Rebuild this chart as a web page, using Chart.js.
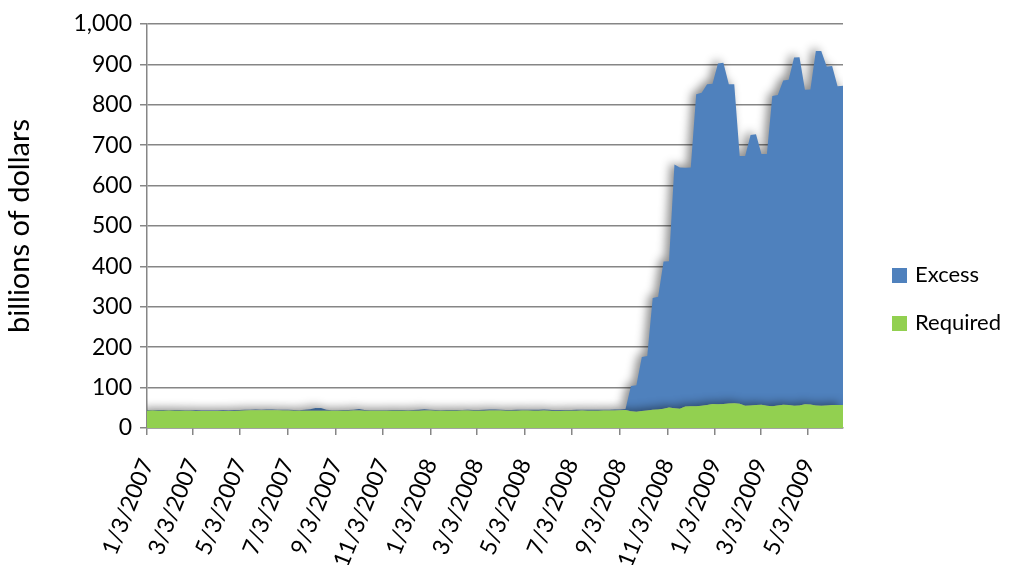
<!DOCTYPE html>
<html>
<head>
<meta charset="utf-8">
<script src="https://cdn.jsdelivr.net/npm/chart.js@4.4.1/dist/chart.umd.min.js"></script>
<style>
  html, body { margin: 0; padding: 0; background: #fff; }
</style>
</head>
<body>
<canvas id="myChart" width="1011" height="565"></canvas>
<script>
// weekly dates (Wednesdays)
const weeks = [
  '1/3/2007','1/10/2007','1/17/2007','1/24/2007','1/31/2007','2/7/2007','2/14/2007','2/21/2007','2/28/2007',
  '3/7/2007','3/14/2007','3/21/2007','3/28/2007','4/4/2007','4/11/2007','4/18/2007','4/25/2007',
  '5/2/2007','5/9/2007','5/16/2007','5/23/2007','5/30/2007','6/6/2007','6/13/2007','6/20/2007','6/27/2007',
  '7/4/2007','7/11/2007','7/18/2007','7/25/2007','8/1/2007','8/8/2007','8/15/2007','8/22/2007','8/29/2007',
  '9/5/2007','9/12/2007','9/19/2007','9/26/2007','10/3/2007','10/10/2007','10/17/2007','10/24/2007','10/31/2007',
  '11/7/2007','11/14/2007','11/21/2007','11/28/2007','12/5/2007','12/12/2007','12/19/2007','12/26/2007',
  '1/2/2008','1/9/2008','1/16/2008','1/23/2008','1/30/2008','2/6/2008','2/13/2008','2/20/2008','2/27/2008',
  '3/5/2008','3/12/2008','3/19/2008','3/26/2008','4/2/2008','4/9/2008','4/16/2008','4/23/2008','4/30/2008',
  '5/7/2008','5/14/2008','5/21/2008','5/28/2008','6/4/2008','6/11/2008','6/18/2008','6/25/2008',
  '7/2/2008','7/9/2008','7/16/2008','7/23/2008','7/30/2008','8/6/2008','8/13/2008','8/20/2008','8/27/2008',
  '9/3/2008','9/10/2008','9/17/2008','9/24/2008','10/1/2008','10/8/2008','10/15/2008','10/22/2008','10/29/2008',
  '11/5/2008','11/12/2008','11/19/2008','11/26/2008','12/3/2008','12/10/2008','12/17/2008','12/24/2008','12/31/2008',
  '1/7/2009','1/14/2009','1/21/2009','1/28/2009','2/4/2009','2/11/2009','2/18/2009','2/25/2009',
  '3/4/2009','3/11/2009','3/18/2009','3/25/2009','4/1/2009','4/8/2009','4/15/2009','4/22/2009','4/29/2009',
  '5/6/2009','5/13/2009','5/20/2009','5/27/2009','6/3/2009','6/10/2009','6/17/2009'
];

// required reserves, billions
const required = [
  43.0, 43.1, 42.9, 43.0, 43.2, 43.0, 42.8, 42.6, 42.4, 42.2,
  42.0, 42.1, 41.9, 42.0, 42.1, 42.0, 42.3, 43.0, 43.6, 43.8,
  43.9, 43.7, 43.8, 44.0, 43.8, 43.6, 43.5, 42.8, 42.4, 42.6,
  42.8, 43.0, 43.0, 42.7, 42.5, 42.4, 42.6, 42.8, 43.2, 43.4,
  43.0, 42.6, 42.5, 42.6, 42.8, 42.9, 43.0, 42.8, 42.6, 42.7,
  43.0, 43.4, 43.2, 42.8, 42.6, 42.7, 42.9, 43.0, 43.2, 43.1,
  42.9, 42.8, 42.9, 43.1, 43.3, 43.2, 43.0, 42.9, 43.0, 43.1,
  43.2, 43.0, 42.9, 43.1, 42.8, 42.3, 42.2, 42.6, 42.9, 43.0,
  43.1, 43.0, 42.9, 43.0, 43.2, 43.4, 43.6, 44.0, 44.5, 41.5,
  40.5, 42.0, 43.5, 45.0, 46.0, 47.5, 51.0, 49.0, 47.5, 53.5,
  54.0, 54.0, 55.0, 57.0, 59.5, 59.0, 59.5, 60.5, 61.5, 60.0,
  55.0, 55.5, 57.0, 57.5, 55.0, 54.0, 56.0, 57.5, 57.0, 55.0,
  56.0, 59.0, 58.0, 56.0, 55.0, 56.0, 57.0, 57.0, 57.0
];

// excess reserves, billions
const excess = [
  1.4, 1.6, 1.5, 1.3, 1.5, 1.7, 1.6, 1.4, 1.5, 1.6,
  1.5, 1.4, 1.6, 1.5, 1.7, 1.5, 1.4, 1.6, 1.5, 1.4,
  1.6, 1.5, 1.7, 1.5, 1.4, 1.6, 1.5, 1.5, 1.7, 2.5,
  3.5, 6.5, 6.5, 2.5, 1.6, 1.5, 1.7, 1.6, 2.0, 3.5,
  1.8, 1.5, 1.6, 1.5, 1.4, 1.6, 1.5, 1.7, 1.6, 1.8,
  2.2, 3.0, 2.0, 1.6, 1.5, 1.6, 1.8, 1.7, 1.6, 1.8,
  1.9, 2.0, 2.3, 2.6, 2.5, 2.0, 1.8, 1.9, 2.0, 1.8,
  1.9, 2.2, 2.4, 2.6, 2.1, 1.8, 1.9, 2.0, 1.9, 2.1,
  2.0, 1.9, 2.1, 2.0, 1.9, 2.0, 2.1, 2.0, 2.5, 62.5,
  65.5, 134, 134.5, 277, 279, 364.5, 362, 603, 597.5, 590.5,
  591, 772, 775, 794, 792.5, 843, 844.5, 790.5, 789.5, 613,
  618, 669.5, 670, 620.5, 623, 768, 768, 802.5, 805, 862,
  862, 778, 780, 877, 878, 839, 839, 789, 790
];

const tickLabels = ['1/3/2007','3/3/2007','5/3/2007','7/3/2007','9/3/2007','11/3/2007',
  '1/3/2008','3/3/2008','5/3/2008','7/3/2008','9/3/2008','11/3/2008',
  '1/3/2009','3/3/2009','5/3/2009'];

// days since the first week
function toDay(s) {
  let p = s.split('/');
  return (Date.UTC(+p[2], +p[0] - 1, +p[1]) - Date.UTC(2007, 0, 3)) / 86400000;
}
const tickDays = tickLabels.map(toDay);
const lastDay = toDay(weeks[weeks.length - 1]);

// soft shadow under the areas, like the excel original
const areaShadow = {
  id: 'areaShadow',
  beforeDatasetsDraw(chart) {
    let c = chart.ctx;
    c.save();
    c.shadowColor = 'rgba(0,0,0,0.45)';
    c.shadowBlur = 10;
    c.shadowOffsetX = -4;
    c.shadowOffsetY = -2;
  },
  afterDatasetsDraw(chart) {
    chart.ctx.restore();
  }
};

// legend on the right, Excess on top
const sideLegend = {
  id: 'sideLegend',
  afterDraw(chart) {
    let ctx = chart.ctx;
    let items = chart.data.datasets.slice().reverse();
    ctx.save();
    ctx.font = '22px Lato';
    ctx.textBaseline = 'middle';
    items.forEach(function (ds, i) {
      let y = 275 + i * 48;
      ctx.fillStyle = ds.backgroundColor;
      ctx.fillRect(892, y - 7, 15, 15);
      ctx.fillStyle = '#000';
      ctx.fillText(ds.label, 915, y);
    });
    ctx.restore();
  }
};

const gridGrey = '#868686';
const labelFont = { family: 'Lato', size: 23 };

const ctx = document.getElementById('myChart').getContext('2d');
const myChart = new Chart(ctx, {
  type: 'line',
  data: {
    datasets: [{
      label: 'Required',
      data: weeks.map((w, i) => ({ x: toDay(w), y: required[i] })),
      backgroundColor: '#92D050',
      borderColor: '#92D050',
      borderWidth: 0,
      pointRadius: 0,
      tension: 0,
      fill: 'origin'
    }, {
      label: 'Excess',
      data: weeks.map((w, i) => ({ x: toDay(w), y: excess[i] })),
      backgroundColor: '#4F81BD',
      borderColor: '#4F81BD',
      borderWidth: 0,
      pointRadius: 0,
      tension: 0,
      fill: '-1'
    }]
  },
  options: {
    responsive: false,
    animation: false,
    layout: { padding: { top: 24, right: 168, bottom: 0, left: 0 } },
    plugins: {
      legend: { display: false },
      tooltip: { enabled: false }
    },
    scales: {
      x: {
        type: 'linear',
        min: 0,
        max: lastDay,
        z: 1,
        grid: { drawOnChartArea: false, color: gridGrey, lineWidth: 1.5, tickLength: 7 },
        border: { color: gridGrey, width: 1.5 },
        afterBuildTicks: function (scale) {
          scale.ticks = tickDays.map(v => ({ value: v }));
        },
        afterFit: function (scale) { scale.height = 137; },
        ticks: {
          autoSkip: false,
          minRotation: 68,
          maxRotation: 68,
          padding: 20,
          color: '#000',
          font: labelFont,
          callback: function (value, index) { return tickLabels[index]; }
        }
      },
      y: {
        stacked: true,
        min: 0,
        max: 1000,
        grid: { color: gridGrey, lineWidth: 1.5, tickLength: 7 },
        border: { color: gridGrey, width: 1.5 },
        afterFit: function (scale) { scale.width = 147; },
        ticks: { stepSize: 100, padding: 8, color: '#000', font: labelFont },
        title: {
          display: true,
          text: 'billions of dollars',
          color: '#000',
          font: { family: 'Lato', size: 29 },
          padding: { top: 2, bottom: 0 }
        }
      }
    }
  },
  plugins: [areaShadow, sideLegend]
});
</script>
</body>
</html>
